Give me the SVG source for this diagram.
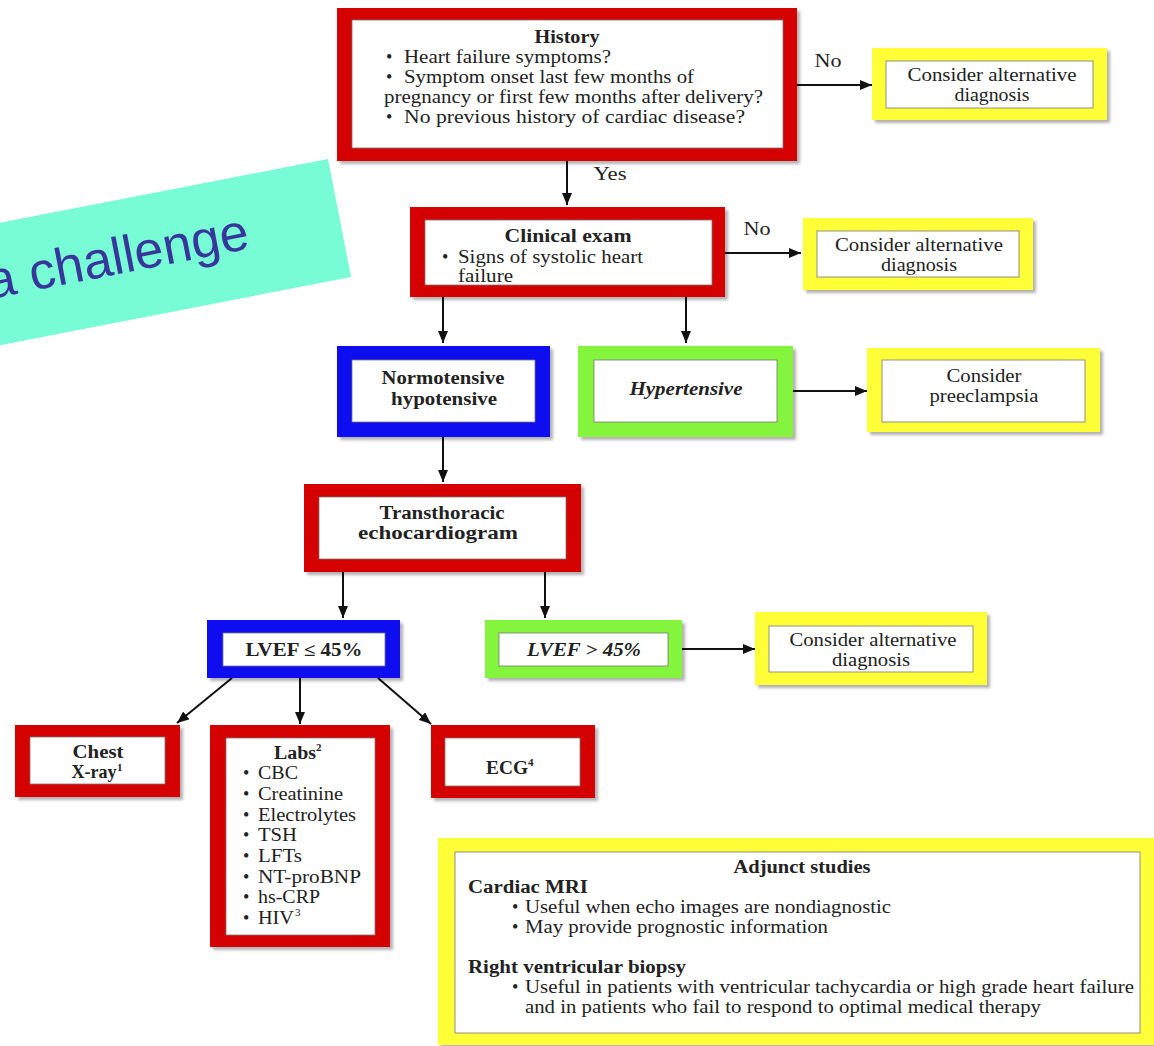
<svg xmlns="http://www.w3.org/2000/svg" width="1154" height="1046" viewBox="0 0 1154 1046">
<defs>
<marker id="ah" viewBox="0 0 12 10" refX="12" refY="5" markerWidth="12" markerHeight="10" markerUnits="userSpaceOnUse" orient="auto">
<path d="M0,0 L12,5 L0,10 Z" fill="#111"/>
</marker>
<filter id="sh" x="-5%" y="-5%" width="115%" height="120%">
<feDropShadow dx="3" dy="3" stdDeviation="1.5" flood-color="#000" flood-opacity="0.3"/>
</filter>
</defs>
<style>
.red{fill:#D50000}
.blue{fill:#0A10F0}
.green{fill:#84F43E}
.yellow{fill:#FFFF38}
.in{fill:#fff;stroke:#777;stroke-width:0.8}
.outer{filter:url(#sh)}
text{font-family:"Liberation Serif","Times New Roman",serif;font-size:18px;fill:#222}
.b{font-weight:bold}
.c{text-anchor:middle}
.i{font-style:italic}
.conn line{stroke:#111;stroke-width:2}
.sup{font-size:11px}
</style>
<rect width="1154" height="1046" fill="#fff"/>

<g id="banner">
<polygon points="-50,232.5 328,159 351,277 -50,355" fill="#77FCD6"/>
<text x="-10" y="299" transform="rotate(-11 -10 299)" style="font-family:'Liberation Sans',Arial,sans-serif;font-size:52px;fill:#37369B">a challenge</text>
</g>

<g class="conn" id="connectors">
<line x1="797" y1="85" x2="872" y2="85" marker-end="url(#ah)"/>
<line x1="567" y1="161" x2="567" y2="205" marker-end="url(#ah)"/>
<line x1="725" y1="253" x2="801" y2="253" marker-end="url(#ah)"/>
<line x1="443" y1="297" x2="443" y2="343" marker-end="url(#ah)"/>
<line x1="686" y1="297" x2="686" y2="343" marker-end="url(#ah)"/>
<line x1="793" y1="391" x2="867" y2="391" marker-end="url(#ah)"/>
<line x1="443" y1="437" x2="443" y2="482" marker-end="url(#ah)"/>
<line x1="343" y1="572" x2="343" y2="618" marker-end="url(#ah)"/>
<line x1="545" y1="572" x2="545" y2="618" marker-end="url(#ah)"/>
<line x1="682" y1="649" x2="755" y2="649" marker-end="url(#ah)"/>
<line x1="232" y1="678" x2="177" y2="723" marker-end="url(#ah)"/>
<line x1="300" y1="678" x2="300" y2="724" marker-end="url(#ah)"/>
<line x1="378" y1="678" x2="431" y2="724" marker-end="url(#ah)"/>
<text x="828" y="67" class="c" textLength="27" lengthAdjust="spacingAndGlyphs">No</text>
<text x="610" y="180" class="c" textLength="33" lengthAdjust="spacingAndGlyphs">Yes</text>
<text x="757" y="235" class="c" textLength="27" lengthAdjust="spacingAndGlyphs">No</text>
</g>

<g id="history">
<rect class="red outer" x="337" y="8" width="460" height="153"/>
<rect class="in" x="352" y="20" width="431" height="128"/>
<text x="567" y="43" class="b c" textLength="65" lengthAdjust="spacingAndGlyphs">History</text>
<text x="386" y="63">•</text>
<text x="404" y="63" textLength="207" lengthAdjust="spacingAndGlyphs">Heart failure symptoms?</text>
<text x="386" y="83">•</text>
<text x="404" y="83" textLength="290" lengthAdjust="spacingAndGlyphs">Symptom onset last few months of</text>
<text x="384" y="103" textLength="379" lengthAdjust="spacingAndGlyphs">pregnancy or first few months after delivery?</text>
<text x="386" y="123">•</text>
<text x="404" y="123" textLength="341" lengthAdjust="spacingAndGlyphs">No previous history of cardiac disease?</text>
</g>

<g id="alt1">
<rect class="yellow outer" x="872" y="48" width="235" height="72"/>
<rect class="in" x="886" y="61" width="207" height="47"/>
<text x="992" y="81" class="c" textLength="169" lengthAdjust="spacingAndGlyphs">Consider alternative</text>
<text x="992" y="101" class="c" textLength="75" lengthAdjust="spacingAndGlyphs">diagnosis</text>
</g>

<g id="clinical">
<rect class="red outer" x="410" y="207" width="315" height="90"/>
<rect class="in" x="425" y="220" width="287" height="65"/>
<text x="568" y="242" class="b c" textLength="127" lengthAdjust="spacingAndGlyphs">Clinical  exam</text>
<text x="442" y="263">•</text>
<text x="458" y="263" textLength="185" lengthAdjust="spacingAndGlyphs">Signs of systolic heart</text>
<text x="458" y="282" textLength="55" lengthAdjust="spacingAndGlyphs">failure</text>
</g>

<g id="alt2">
<rect class="yellow outer" x="803" y="218" width="230" height="72"/>
<rect class="in" x="817" y="231" width="202" height="46"/>
<text x="919" y="251" class="c" textLength="168" lengthAdjust="spacingAndGlyphs">Consider alternative</text>
<text x="919" y="271" class="c" textLength="76" lengthAdjust="spacingAndGlyphs">diagnosis</text>
</g>

<g id="normo">
<rect class="blue outer" x="337" y="346" width="213" height="91"/>
<rect class="in" x="352" y="360" width="183" height="62"/>
<text x="443" y="384" class="b c" textLength="123" lengthAdjust="spacingAndGlyphs">Normotensive</text>
<text x="444" y="405" class="b c" textLength="106" lengthAdjust="spacingAndGlyphs">hypotensive</text>
</g>

<g id="hyper">
<rect class="green outer" x="578" y="346" width="215" height="91"/>
<rect class="in" x="594" y="360" width="183" height="62"/>
<text x="686" y="395" class="b i c" textLength="113" lengthAdjust="spacingAndGlyphs">Hypertensive</text>
</g>

<g id="preeclampsia">
<rect class="yellow outer" x="867" y="348" width="233" height="84"/>
<rect class="in" x="882" y="360" width="203" height="62"/>
<text x="984" y="382" class="c" textLength="75" lengthAdjust="spacingAndGlyphs">Consider</text>
<text x="984" y="402" class="c" textLength="109" lengthAdjust="spacingAndGlyphs">preeclampsia</text>
</g>

<g id="echo">
<rect class="red outer" x="304" y="484" width="277" height="88"/>
<rect class="in" x="319" y="497" width="247" height="62"/>
<text x="442" y="519" class="b c" textLength="125" lengthAdjust="spacingAndGlyphs">Transthoracic</text>
<text x="438" y="539" class="b c" textLength="160" lengthAdjust="spacingAndGlyphs">echocardiogram</text>
</g>

<g id="lvef-low">
<rect class="blue outer" x="207" y="620" width="193" height="58"/>
<rect class="in" x="223" y="633" width="162" height="33"/>
<text x="304" y="656" class="b c" textLength="117" lengthAdjust="spacingAndGlyphs">LVEF ≤ 45%</text>
</g>

<g id="lvef-high">
<rect class="green outer" x="485" y="620" width="197" height="58"/>
<rect class="in" x="499" y="633" width="169" height="33"/>
<text x="584" y="656" class="b i c" textLength="114" lengthAdjust="spacingAndGlyphs">LVEF &gt; 45%</text>
</g>

<g id="alt3">
<rect class="yellow outer" x="755" y="612" width="232" height="73"/>
<rect class="in" x="769" y="626" width="204" height="46"/>
<text x="873" y="646" class="c" textLength="167" lengthAdjust="spacingAndGlyphs">Consider alternative</text>
<text x="871" y="666" class="c" textLength="78" lengthAdjust="spacingAndGlyphs">diagnosis</text>
</g>

<g id="chest">
<rect class="red outer" x="15" y="725" width="165" height="72"/>
<rect class="in" x="30" y="737" width="135" height="47"/>
<text x="98" y="758" class="b c" textLength="51" lengthAdjust="spacingAndGlyphs">Chest</text>
<text x="94" y="778" class="b c" textLength="45" lengthAdjust="spacingAndGlyphs">X-ray</text>
<text x="117" y="771" class="b sup">1</text>
</g>

<g id="labs">
<rect class="red outer" x="210" y="725" width="180" height="222"/>
<rect class="in" x="226" y="738" width="149" height="197"/>
<text x="295" y="759" class="b c" textLength="42" lengthAdjust="spacingAndGlyphs">Labs</text>
<text x="316" y="751" class="b sup">2</text>
<text x="243" y="779">•</text><text x="258" y="779" textLength="40" lengthAdjust="spacingAndGlyphs">CBC</text>
<text x="243" y="800">•</text><text x="258" y="800" textLength="85" lengthAdjust="spacingAndGlyphs">Creatinine</text>
<text x="243" y="821">•</text><text x="258" y="821" textLength="98" lengthAdjust="spacingAndGlyphs">Electrolytes</text>
<text x="243" y="841">•</text><text x="258" y="841" textLength="39" lengthAdjust="spacingAndGlyphs">TSH</text>
<text x="243" y="862">•</text><text x="258" y="862" textLength="44" lengthAdjust="spacingAndGlyphs">LFTs</text>
<text x="243" y="883">•</text><text x="258" y="883" textLength="103" lengthAdjust="spacingAndGlyphs">NT-proBNP</text>
<text x="243" y="903">•</text><text x="258" y="903" textLength="62" lengthAdjust="spacingAndGlyphs">hs-CRP</text>
<text x="243" y="924">•</text><text x="258" y="924" textLength="36" lengthAdjust="spacingAndGlyphs">HIV</text>
<text x="295" y="916" class="sup">3</text>
</g>

<g id="ecg">
<rect class="red outer" x="431" y="725" width="164" height="73"/>
<rect class="in" x="445" y="738" width="135" height="48"/>
<text x="507" y="774" class="b c" textLength="42" lengthAdjust="spacingAndGlyphs">ECG</text>
<text x="528" y="766" class="b sup">4</text>
</g>

<g id="adjunct">
<rect class="yellow outer" x="438" y="838" width="716" height="207"/>
<rect class="in" x="455" y="852" width="685" height="181"/>
<text x="802" y="873" class="b c" textLength="137" lengthAdjust="spacingAndGlyphs">Adjunct studies</text>
<text x="468" y="893" class="b" textLength="120" lengthAdjust="spacingAndGlyphs">Cardiac MRI</text>
<text x="512" y="913">•</text>
<text x="525" y="913" textLength="366" lengthAdjust="spacingAndGlyphs">Useful when echo images are nondiagnostic</text>
<text x="512" y="933">•</text>
<text x="525" y="933" textLength="303" lengthAdjust="spacingAndGlyphs">May provide prognostic information</text>
<text x="468" y="973" class="b" textLength="218" lengthAdjust="spacingAndGlyphs">Right ventricular biopsy</text>
<text x="512" y="993">•</text>
<text x="525" y="993" textLength="609" lengthAdjust="spacingAndGlyphs">Useful in patients with ventricular tachycardia or high grade heart failure</text>
<text x="525" y="1013" textLength="516" lengthAdjust="spacingAndGlyphs">and in patients who fail to respond to optimal medical therapy</text>
</g>
</svg>
